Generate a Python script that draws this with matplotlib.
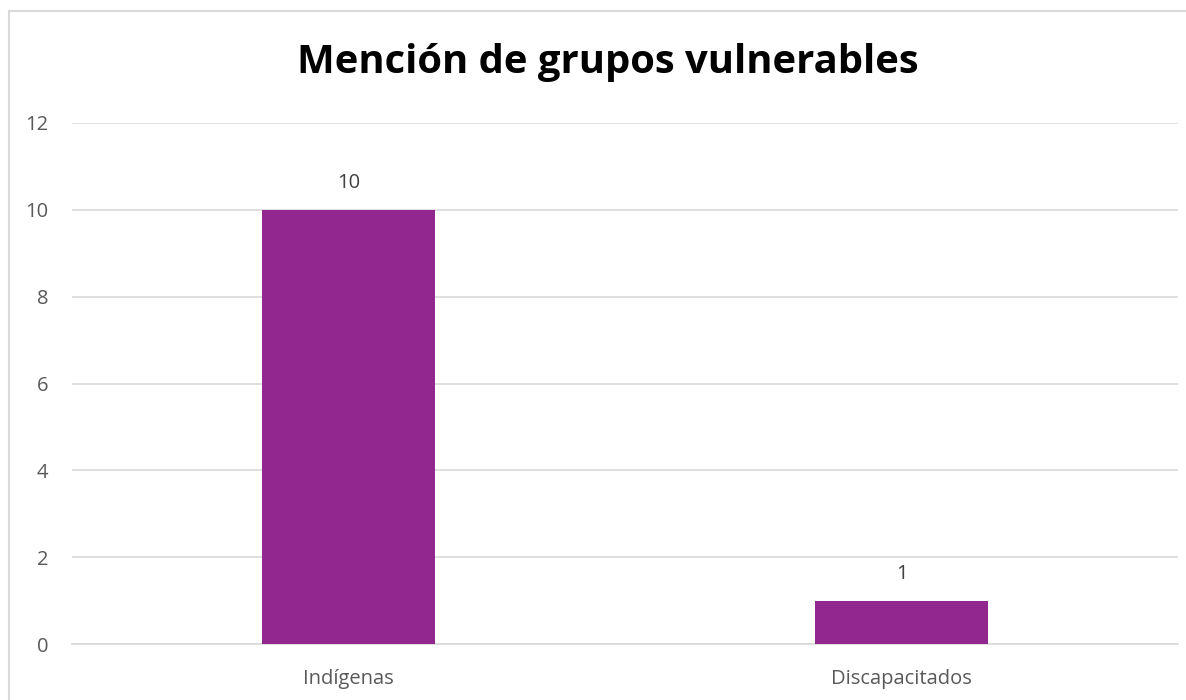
import matplotlib
matplotlib.use("Agg")
import matplotlib.pyplot as plt
from matplotlib.patches import Rectangle

categories = ["Indígenas", "Discapacitados"]
values = [10, 1]
yticks = [0, 2, 4, 6, 8, 10, 12]
title = "Mención de grupos vulnerables"

plt.rcParams['font.family'] = ['Open Sans', 'DejaVu Sans']

W, H = 1186, 700
fig = plt.figure(figsize=(W/100, H/100), dpi=100)
fig.patch.set_facecolor("white")

# chart border
fig.patches.append(Rectangle((9/W, -0.05), 1.2, (H-11)/H + 0.05, transform=fig.transFigure,
                             fill=False, edgecolor="#d9d9d9", linewidth=1.5, zorder=0))

ax = fig.add_axes([72/W, (H-644)/H, (1178-72)/W, (644-123)/H])
x = list(range(len(categories)))
ax.bar(x, values, width=0.313, color="#92278F", zorder=3)
ax.set_xlim(-0.5, len(categories)-0.5)
ax.set_ylim(0, 12)
ax.set_yticks(yticks)
ax.set_yticklabels([str(t) for t in yticks])
ax.set_xticks(x)
ax.set_xticklabels(categories)
ax.yaxis.grid(True, color="#d9d9d9", linewidth=1.2, zorder=0)
for s in ["top", "right", "left"]:
    ax.spines[s].set_visible(False)
ax.spines["bottom"].set_color("#d9d9d9")
ax.spines["bottom"].set_linewidth(1.2)
ax.tick_params(axis="both", length=0, labelsize=14.5, colors="#595959")
ax.tick_params(axis="y", pad=17)
ax.tick_params(axis="x", pad=18)

for xi, v in zip(x, values):
    ax.annotate(str(v), (xi, v), xytext=(0, 19), textcoords="offset points",
                ha="center", va="center", fontsize=14.5, color="#404040")

fig.text(608/W, 1 - 63/H, title, ha="center", va="center", fontsize=28.8,
         fontweight="bold", color="black")

fig.savefig("out.png", dpi=100)
